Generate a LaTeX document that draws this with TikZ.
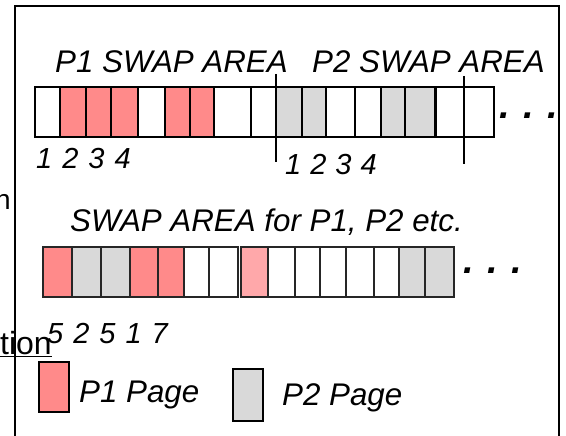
\documentclass[tikz,border=0pt]{standalone}
\usepackage{fontspec}
\setmainfont{Liberation Sans}
\usetikzlibrary{positioning}

\definecolor{pone}{HTML}{FF8A8A}
\definecolor{ptwo}{HTML}{D9D9D9}
\definecolor{pnew}{HTML}{FFA8AA}

% wider word spacing for digit and dot rows
\newcommand{\spaced}[2]{{\spaceskip=#1\relax #2}}

\begin{document}
\begin{tikzpicture}[
    x=1pt, y=-1pt,
    cell/.style={rectangle, draw=black, line width=2pt, minimum height=50pt, inner sep=0pt, outer sep=0pt, anchor=north west},
    legend/.style={rectangle, draw=black, line width=2pt, minimum width=30pt, minimum height=50pt, inner sep=0pt, outer sep=0pt, anchor=north west},
    title/.style={inner sep=0pt, anchor=base west, font=\fontsize{31.3}{37}\selectfont\itshape},
    num/.style={inner sep=0pt, anchor=base west, font=\fontsize{29}{34}\selectfont\itshape},
    dots/.style={inner sep=0pt, anchor=base west, font=\fontsize{38}{44}\selectfont\bfseries\itshape},
    divider/.style={line width=1.6pt},
    frame/.style={line width=2pt}
]
\clip (0,0) rectangle (566,436);

% Outer frame
\draw[frame] (15,440) |- (559,6) -- (559,440);

% Per-process swap areas
\node[title] (p1area) at (55,73) {P1 SWAP AREA};
\node[title] (p2area) at (312,73) {P2 SWAP AREA};
\foreach \x/\w/\c [count=\i] in {35/25/white, 60/26/pone, 86/25/pone, 111/27/pone,
    138/27/white, 165/25/pone, 190/24/pone, 214/37/white, 251/25/white,
    276/26/ptwo, 302/24/ptwo, 326/29/white, 355/26/white, 381/24/ptwo,
    405/30/ptwo, 435/29/white, 464/30/white}
    \node[cell, minimum width=\w pt, fill=\c] (top\i) at (\x,87) {};
\draw[line width=3pt] (top16.north west) -- (top16.south west);
\node[dots] (topdots) at (499,119) {\spaced{10pt}{. . .}};
\coordinate (cut1a) at (276,74);
\coordinate (cut1b) at (276,162);
\coordinate (cut2a) at (464,76);
\coordinate (cut2b) at (464,164);
\draw[divider] (cut1a) -- (cut1b);
\draw[divider] (cut2a) -- (cut2b);
\node[num] (p1nums) at (36,168) {\spaced{10pt}{1 2 3 4}};
\node[num] (p2nums) at (285,175) {\spaced{9pt}{1 2 3 4}};

% Shared swap area
\node[title] (shared) at (70,231) {SWAP AREA for P1, P2 etc.};
\foreach \x/\w/\c [count=\i] in {43/29/pone, 72/29/ptwo, 101/29/ptwo, 130/28/pone,
    158/26/pone, 184/25/white, 209/29/white, 241/27/pnew, 268/27/white,
    295/25/white, 320/26/white, 346/28/white, 374/25/white, 399/26/ptwo,
    425/29/ptwo}
    \node[cell, draw=black!85, line width=2.4pt, minimum width=\w pt, fill=\c] (mid\i) at (\x,247) {};
\node[dots] (middots) at (463,273) {\spaced{10pt}{. . .}};
\node[num] (slots) at (47,343) {\spaced{10pt}{5 2 5\ 1 7}};

% Cut-off text at the left edge
\node[inner sep=0pt, anchor=base east, font=\fontsize{28}{34}\selectfont] (edgen) at (11,210) {n};
\node[inner sep=0pt, anchor=base east, font=\fontsize{32}{38}\selectfont] (edgetion) at (52,354) {\underline{tion}};

% Legend
\node[legend, fill=pone] (keyone) at (39,362) {};
\node[title, right=10pt of keyone.east, anchor=base west, yshift=-15pt] (keyonetext) {P1 Page};
\node[legend, minimum height=52pt, fill=ptwo] (keytwo) at (233,369) {};
\node[title, right=19pt of keytwo.east, anchor=base west, yshift=-10pt] (keytwotext) {P2 Page};
\end{tikzpicture}
\end{document}
